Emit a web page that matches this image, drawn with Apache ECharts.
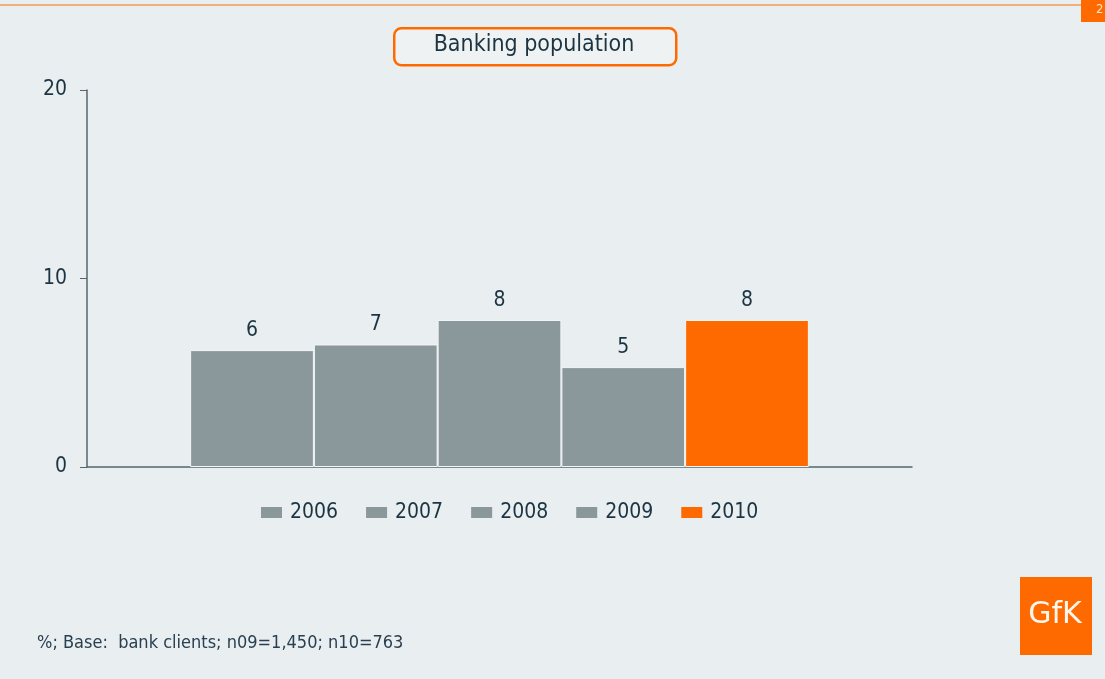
<!DOCTYPE html>
<html>
<head>
<meta charset="utf-8">
<script src="https://cdn.jsdelivr.net/npm/echarts@6/dist/echarts.min.js"></script>
<style>
html,body{margin:0;padding:0;background:#e9eef0;}
#c{width:1105px;height:679px;}
</style>
</head>
<body>
<div id="c"></div>
<script>
var categories = ['Banking population'];
var years = ['2006', '2007', '2008', '2009', '2010'];
var values = [6.2, 6.5, 7.8, 5.3, 7.8];
var colors = ['#8a979b', '#8a979b', '#8a979b', '#8a979b', '#ff6a00'];
var yTicks = [0, 10, 20];
var titleText = 'Banking population';
var footnote = '%; Base:  bank clients; n09=1,450; n10=763';

var FONT = '"DejaVu Sans Condensed", "DejaVu Sans", sans-serif';
var TXT = '#1c3442';

var chart = echarts.init(document.getElementById('c'), null, {renderer: 'canvas'});

var series = years.map(function (y, i) {
  return {
    name: y,
    type: 'bar',
    data: [values[i]],
    barGap: '0%',
    barCategoryGap: '25%',
    itemStyle: {color: colors[i], borderColor: '#f3f6f7', borderWidth: 1},
    label: {
      show: true,
      position: 'top',
      distance: 9,
      fontFamily: FONT,
      fontSize: 21,
      color: TXT,
      formatter: function (p) { return Math.round(p.value); }
    }
  };
});

chart.setOption({
  backgroundColor: '#e9eef0',
  animation: false,
  grid: {left: 87, right: 193, top: 90, bottom: 212, containLabel: false},
  legend: {
    data: years,
    top: 497,
    left: 256,
    icon: 'rect',
    itemWidth: 21,
    itemHeight: 11,
    itemGap: 28,
    itemStyle: {borderWidth: 0},
    textStyle: {fontFamily: FONT, fontSize: 21, color: TXT, padding: [0, 0, 0, 3]}
  },
  xAxis: {
    type: 'category',
    data: categories,
    axisLine: {lineStyle: {color: '#56666d', width: 1.5}},
    axisTick: {show: false},
    axisLabel: {show: false}
  },
  yAxis: {
    type: 'value',
    min: yTicks[0],
    max: yTicks[yTicks.length - 1],
    interval: 10,
    splitLine: {show: false},
    axisLine: {show: true, lineStyle: {color: '#56666d', width: 1.5}},
    axisTick: {show: true, length: 7, lineStyle: {color: '#56666d'}},
    axisLabel: {fontFamily: FONT, fontSize: 21, color: TXT, margin: 20}
  },
  series: series,
  graphic: [
    {type: 'rect', left: 0, top: 4, shape: {width: 1105, height: 2}, style: {fill: '#efb07c'}, silent: true},
    {type: 'rect', left: 1081, top: 0, shape: {width: 24, height: 22}, style: {fill: '#ff6a00'}, silent: true},
    {type: 'text', left: 1096, top: 3, style: {text: '2', fill: '#ffe2cc', font: '13px ' + FONT}, silent: true},
    {type: 'rect', left: 393, top: 27, shape: {width: 282, height: 37, r: 7}, style: {fill: '#eef2f3', stroke: '#ff6a00', lineWidth: 2.5}, silent: true},
    {type: 'text', x: 534, y: 45, style: {text: titleText, fill: TXT, font: '23px ' + FONT, align: 'center', verticalAlign: 'middle'}, silent: true},
    {type: 'rect', left: 1020, top: 577, shape: {width: 72, height: 78}, style: {fill: '#ff6a00'}, silent: true},
    {type: 'text', x: 1055, y: 615, style: {text: 'GfK', fill: '#fff6ec', font: '30px "DejaVu Sans", sans-serif', align: 'center', verticalAlign: 'middle'}, silent: true},
    {type: 'text', left: 37, top: 634, style: {text: footnote, fill: '#2a4050', font: '18px ' + FONT}, silent: true}
  ]
});
</script>
</body>
</html>
